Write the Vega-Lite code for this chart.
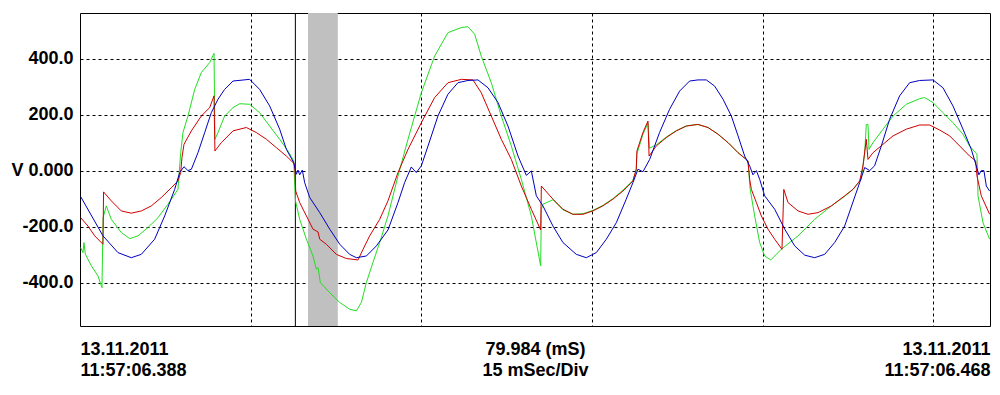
{
  "$schema": "https://vega.github.io/schema/vega-lite/v6.json",
  "autosize": {"type": "none"},
  "width": 910,
  "height": 313,
  "padding": {"left": 80, "top": 13, "right": 10, "bottom": 69},
  "background": "white",
  "config": {
    "view": {"stroke": "black", "strokeWidth": 1},
    "axis": {"labelFont": "Liberation Sans", "labelFontWeight": "bold", "labelFontSize": 18, "labelColor": "black"}
  },
  "datasets": {
    "band": [{"t1": 20.04, "t2": 22.66}],
    "cursor": [{"t": 18.93}],
    "series": [
      {"s":"green","t":0.06,"v":-275},{"s":"green","t":0.26,"v":-293},{"s":"green","t":0.35,"v":-257},{"s":"green","t":0.47,"v":-299},{"s":"green","t":1.00,"v":-340},{"s":"green","t":1.58,"v":-376},{"s":"green","t":1.93,"v":-418},{"s":"green","t":2.03,"v":-168},{"s":"green","t":2.31,"v":-126},{"s":"green","t":2.75,"v":-174},{"s":"green","t":3.63,"v":-221},{"s":"green","t":4.37,"v":-243},{"s":"green","t":5.10,"v":-233},{"s":"green","t":5.98,"v":-203},{"s":"green","t":6.86,"v":-168},{"s":"green","t":7.73,"v":-120},{"s":"green","t":8.61,"v":-67},{"s":"green","t":8.85,"v":64},{"s":"green","t":9.05,"v":136},{"s":"green","t":9.49,"v":195},{"s":"green","t":10.08,"v":290},{"s":"green","t":10.66,"v":350},{"s":"green","t":11.40,"v":386},{"s":"green","t":11.78,"v":419},{"s":"green","t":11.86,"v":112},{"s":"green","t":12.13,"v":136},{"s":"green","t":12.71,"v":195},{"s":"green","t":13.45,"v":225},{"s":"green","t":14.03,"v":239},{"s":"green","t":14.91,"v":237},{"s":"green","t":15.79,"v":207},{"s":"green","t":16.67,"v":159},{"s":"green","t":17.55,"v":112},{"s":"green","t":18.28,"v":70},{"s":"green","t":18.78,"v":35},{"s":"green","t":18.94,"v":-108},{"s":"green","t":19.31,"v":-174},{"s":"green","t":19.90,"v":-245},{"s":"green","t":20.48,"v":-305},{"s":"green","t":20.77,"v":-352},{"s":"green","t":20.92,"v":-346},{"s":"green","t":21.13,"v":-400},{"s":"green","t":21.95,"v":-436},{"s":"green","t":22.83,"v":-471},{"s":"green","t":23.70,"v":-495},{"s":"green","t":24.29,"v":-501},{"s":"green","t":24.73,"v":-471},{"s":"green","t":25.17,"v":-400},{"s":"green","t":25.75,"v":-328},{"s":"green","t":26.34,"v":-257},{"s":"green","t":27.07,"v":-162},{"s":"green","t":27.95,"v":-19},{"s":"green","t":28.83,"v":112},{"s":"green","t":30.00,"v":278},{"s":"green","t":31.17,"v":409},{"s":"green","t":32.34,"v":493},{"s":"green","t":33.52,"v":511},{"s":"green","t":34.10,"v":514},{"s":"green","t":34.69,"v":487},{"s":"green","t":35.27,"v":409},{"s":"green","t":36.15,"v":314},{"s":"green","t":37.03,"v":195},{"s":"green","t":37.91,"v":88},{"s":"green","t":38.79,"v":-31},{"s":"green","t":39.67,"v":-162},{"s":"green","t":40.49,"v":-340},{"s":"green","t":40.55,"v":-138},{"s":"green","t":40.69,"v":-120},{"s":"green","t":41.57,"v":-104},{"s":"green","t":42.45,"v":-140},{"s":"green","t":43.33,"v":-156},{"s":"green","t":44.21,"v":-154},{"s":"green","t":45.08,"v":-142},{"s":"green","t":45.96,"v":-124},{"s":"green","t":46.84,"v":-100},{"s":"green","t":47.72,"v":-70},{"s":"green","t":48.60,"v":-35},{"s":"green","t":48.89,"v":3},{"s":"green","t":48.95,"v":60},{"s":"green","t":49.48,"v":130},{"s":"green","t":49.92,"v":170},{"s":"green","t":50.05,"v":80},{"s":"green","t":50.65,"v":92},{"s":"green","t":51.53,"v":120},{"s":"green","t":52.41,"v":143},{"s":"green","t":53.29,"v":160},{"s":"green","t":54.31,"v":165},{"s":"green","t":55.20,"v":154},{"s":"green","t":56.08,"v":130},{"s":"green","t":56.96,"v":100},{"s":"green","t":57.84,"v":64},{"s":"green","t":58.71,"v":35},{"s":"green","t":58.90,"v":-65},{"s":"green","t":59.30,"v":-162},{"s":"green","t":59.74,"v":-257},{"s":"green","t":60.18,"v":-305},{"s":"green","t":60.71,"v":-319},{"s":"green","t":61.64,"v":-281},{"s":"green","t":63.11,"v":-233},{"s":"green","t":64.57,"v":-174},{"s":"green","t":66.04,"v":-126},{"s":"green","t":67.21,"v":-92},{"s":"green","t":67.94,"v":-67},{"s":"green","t":68.67,"v":-31},{"s":"green","t":68.97,"v":64},{"s":"green","t":69.11,"v":165},{"s":"green","t":69.26,"v":165},{"s":"green","t":69.35,"v":76},{"s":"green","t":69.70,"v":100},{"s":"green","t":70.58,"v":148},{"s":"green","t":71.46,"v":195},{"s":"green","t":72.63,"v":237},{"s":"green","t":73.80,"v":257},{"s":"green","t":74.24,"v":261},{"s":"green","t":74.97,"v":243},{"s":"green","t":75.85,"v":207},{"s":"green","t":76.73,"v":171},{"s":"green","t":77.61,"v":130},{"s":"green","t":78.19,"v":88},{"s":"green","t":78.72,"v":64},{"s":"green","t":78.84,"v":58},{"s":"green","t":78.93,"v":-90},{"s":"green","t":79.37,"v":-186},{"s":"green","t":79.95,"v":-245},
      {"s":"red","t":0.06,"v":-168},{"s":"red","t":0.70,"v":-198},{"s":"red","t":1.29,"v":-233},{"s":"red","t":2.02,"v":-263},{"s":"red","t":2.07,"v":-76},{"s":"red","t":2.75,"v":-108},{"s":"red","t":3.63,"v":-144},{"s":"red","t":4.51,"v":-152},{"s":"red","t":5.39,"v":-144},{"s":"red","t":6.27,"v":-126},{"s":"red","t":7.15,"v":-96},{"s":"red","t":8.03,"v":-61},{"s":"red","t":8.61,"v":-37},{"s":"red","t":8.85,"v":-7},{"s":"red","t":8.96,"v":46},{"s":"red","t":9.14,"v":94},{"s":"red","t":9.79,"v":142},{"s":"red","t":10.66,"v":195},{"s":"red","t":11.40,"v":225},{"s":"red","t":11.78,"v":267},{"s":"red","t":11.86,"v":70},{"s":"red","t":12.42,"v":100},{"s":"red","t":13.45,"v":142},{"s":"red","t":14.62,"v":154},{"s":"red","t":15.50,"v":136},{"s":"red","t":16.38,"v":112},{"s":"red","t":17.26,"v":82},{"s":"red","t":18.14,"v":52},{"s":"red","t":18.87,"v":23},{"s":"red","t":18.96,"v":-73},{"s":"red","t":19.31,"v":-114},{"s":"red","t":19.90,"v":-162},{"s":"red","t":20.48,"v":-209},{"s":"red","t":20.92,"v":-219},{"s":"red","t":21.07,"v":-245},{"s":"red","t":21.65,"v":-263},{"s":"red","t":22.53,"v":-299},{"s":"red","t":23.41,"v":-314},{"s":"red","t":24.44,"v":-319},{"s":"red","t":24.88,"v":-281},{"s":"red","t":25.46,"v":-233},{"s":"red","t":26.34,"v":-174},{"s":"red","t":27.07,"v":-108},{"s":"red","t":27.95,"v":-7},{"s":"red","t":28.83,"v":76},{"s":"red","t":30.00,"v":171},{"s":"red","t":31.17,"v":261},{"s":"red","t":32.34,"v":314},{"s":"red","t":33.52,"v":326},{"s":"red","t":34.54,"v":324},{"s":"red","t":35.27,"v":278},{"s":"red","t":36.15,"v":195},{"s":"red","t":37.03,"v":112},{"s":"red","t":37.91,"v":40},{"s":"red","t":38.79,"v":-55},{"s":"red","t":39.67,"v":-138},{"s":"red","t":40.49,"v":-212},{"s":"red","t":40.55,"v":-55},{"s":"red","t":41.57,"v":-102},{"s":"red","t":42.45,"v":-138},{"s":"red","t":43.33,"v":-156},{"s":"red","t":44.21,"v":-156},{"s":"red","t":45.08,"v":-144},{"s":"red","t":45.96,"v":-126},{"s":"red","t":46.84,"v":-102},{"s":"red","t":47.72,"v":-73},{"s":"red","t":48.60,"v":-37},{"s":"red","t":48.89,"v":5},{"s":"red","t":48.95,"v":70},{"s":"red","t":49.48,"v":136},{"s":"red","t":49.92,"v":177},{"s":"red","t":50.02,"v":52},{"s":"red","t":50.65,"v":88},{"s":"red","t":51.53,"v":118},{"s":"red","t":52.41,"v":142},{"s":"red","t":53.29,"v":159},{"s":"red","t":54.31,"v":165},{"s":"red","t":55.20,"v":154},{"s":"red","t":56.08,"v":130},{"s":"red","t":56.96,"v":100},{"s":"red","t":57.84,"v":64},{"s":"red","t":58.71,"v":35},{"s":"red","t":58.86,"v":-31},{"s":"red","t":59.01,"v":-67},{"s":"red","t":59.45,"v":-114},{"s":"red","t":59.89,"v":-162},{"s":"red","t":60.47,"v":-209},{"s":"red","t":61.06,"v":-245},{"s":"red","t":61.70,"v":-281},{"s":"red","t":61.86,"v":-67},{"s":"red","t":62.23,"v":-114},{"s":"red","t":63.11,"v":-144},{"s":"red","t":63.99,"v":-156},{"s":"red","t":64.87,"v":-150},{"s":"red","t":66.04,"v":-126},{"s":"red","t":67.21,"v":-90},{"s":"red","t":67.94,"v":-67},{"s":"red","t":68.53,"v":-37},{"s":"red","t":68.82,"v":17},{"s":"red","t":69.11,"v":112},{"s":"red","t":69.26,"v":40},{"s":"red","t":69.70,"v":64},{"s":"red","t":70.58,"v":94},{"s":"red","t":71.46,"v":124},{"s":"red","t":72.63,"v":148},{"s":"red","t":73.80,"v":163},{"s":"red","t":74.68,"v":163},{"s":"red","t":75.56,"v":145},{"s":"red","t":76.44,"v":124},{"s":"red","t":77.32,"v":88},{"s":"red","t":78.19,"v":52},{"s":"red","t":78.72,"v":35},{"s":"red","t":78.84,"v":-19},{"s":"red","t":79.22,"v":-90},{"s":"red","t":79.95,"v":-156},
      {"s":"blue","t":0.06,"v":-93},{"s":"blue","t":2.02,"v":-233},{"s":"blue","t":3.34,"v":-293},{"s":"blue","t":4.51,"v":-311},{"s":"blue","t":5.39,"v":-299},{"s":"blue","t":6.56,"v":-245},{"s":"blue","t":7.44,"v":-162},{"s":"blue","t":8.32,"v":-67},{"s":"blue","t":8.76,"v":-7},{"s":"blue","t":9.14,"v":14},{"s":"blue","t":9.49,"v":0},{"s":"blue","t":9.79,"v":5},{"s":"blue","t":10.37,"v":64},{"s":"blue","t":10.96,"v":136},{"s":"blue","t":11.54,"v":207},{"s":"blue","t":12.13,"v":255},{"s":"blue","t":12.71,"v":290},{"s":"blue","t":13.45,"v":320},{"s":"blue","t":14.91,"v":326},{"s":"blue","t":15.79,"v":290},{"s":"blue","t":16.67,"v":231},{"s":"blue","t":17.55,"v":148},{"s":"blue","t":18.14,"v":76},{"s":"blue","t":18.78,"v":29},{"s":"blue","t":19.02,"v":-13},{"s":"blue","t":19.16,"v":2},{"s":"blue","t":19.31,"v":-15},{"s":"blue","t":19.54,"v":2},{"s":"blue","t":19.75,"v":-43},{"s":"blue","t":20.19,"v":-96},{"s":"blue","t":21.07,"v":-150},{"s":"blue","t":21.95,"v":-209},{"s":"blue","t":22.83,"v":-263},{"s":"blue","t":23.70,"v":-299},{"s":"blue","t":24.29,"v":-311},{"s":"blue","t":25.17,"v":-305},{"s":"blue","t":26.05,"v":-269},{"s":"blue","t":27.07,"v":-212},{"s":"blue","t":27.95,"v":-114},{"s":"blue","t":28.53,"v":-43},{"s":"blue","t":29.12,"v":13},{"s":"blue","t":29.56,"v":-7},{"s":"blue","t":30.00,"v":17},{"s":"blue","t":30.59,"v":88},{"s":"blue","t":31.46,"v":195},{"s":"blue","t":32.34,"v":273},{"s":"blue","t":33.22,"v":314},{"s":"blue","t":34.10,"v":322},{"s":"blue","t":34.98,"v":324},{"s":"blue","t":35.86,"v":296},{"s":"blue","t":36.74,"v":243},{"s":"blue","t":37.62,"v":159},{"s":"blue","t":38.50,"v":52},{"s":"blue","t":39.23,"v":-17},{"s":"blue","t":39.67,"v":-1},{"s":"blue","t":40.11,"v":-90},{"s":"blue","t":40.69,"v":-126},{"s":"blue","t":41.57,"v":-198},{"s":"blue","t":42.45,"v":-257},{"s":"blue","t":43.62,"v":-299},{"s":"blue","t":44.50,"v":-311},{"s":"blue","t":45.38,"v":-293},{"s":"blue","t":46.26,"v":-245},{"s":"blue","t":47.14,"v":-186},{"s":"blue","t":48.01,"v":-102},{"s":"blue","t":48.60,"v":-43},{"s":"blue","t":49.04,"v":5},{"s":"blue","t":49.48,"v":-4},{"s":"blue","t":50.07,"v":40},{"s":"blue","t":50.94,"v":136},{"s":"blue","t":51.82,"v":219},{"s":"blue","t":52.70,"v":284},{"s":"blue","t":53.58,"v":320},{"s":"blue","t":54.32,"v":324},{"s":"blue","t":55.05,"v":324},{"s":"blue","t":55.78,"v":302},{"s":"blue","t":56.52,"v":255},{"s":"blue","t":57.25,"v":195},{"s":"blue","t":57.84,"v":124},{"s":"blue","t":58.42,"v":52},{"s":"blue","t":58.86,"v":17},{"s":"blue","t":59.15,"v":-15},{"s":"blue","t":59.45,"v":0},{"s":"blue","t":59.74,"v":-31},{"s":"blue","t":60.18,"v":-90},{"s":"blue","t":61.06,"v":-138},{"s":"blue","t":61.94,"v":-209},{"s":"blue","t":62.82,"v":-269},{"s":"blue","t":63.70,"v":-302},{"s":"blue","t":64.57,"v":-311},{"s":"blue","t":65.45,"v":-299},{"s":"blue","t":66.33,"v":-257},{"s":"blue","t":67.21,"v":-198},{"s":"blue","t":67.94,"v":-112},{"s":"blue","t":68.53,"v":-43},{"s":"blue","t":68.97,"v":11},{"s":"blue","t":69.41,"v":0},{"s":"blue","t":69.84,"v":17},{"s":"blue","t":70.43,"v":88},{"s":"blue","t":71.16,"v":183},{"s":"blue","t":72.04,"v":267},{"s":"blue","t":72.92,"v":314},{"s":"blue","t":73.80,"v":322},{"s":"blue","t":74.97,"v":324},{"s":"blue","t":75.85,"v":296},{"s":"blue","t":76.73,"v":231},{"s":"blue","t":77.61,"v":148},{"s":"blue","t":78.34,"v":76},{"s":"blue","t":78.78,"v":17},{"s":"blue","t":79.01,"v":-15},{"s":"blue","t":79.22,"v":0},{"s":"blue","t":79.45,"v":0},{"s":"blue","t":79.66,"v":-55},{"s":"blue","t":79.95,"v":-73}
    ]
  },
  "resolve": {"axis": {"x": "independent", "y": "shared"}},
  "layer": [
    {
      "data": {"name": "band"},
      "mark": {"type": "rect", "color": "#C0C0C0"},
      "encoding": {
        "x": {"field": "t1", "type": "quantitative", "scale": {"domain": [0, 79.984], "nice": false, "zero": false},
          "axis": {"orient": "top", "values": [15, 30, 45, 60, 75], "grid": true, "gridColor": "black", "gridDash": [3, 3], "gridWidth": 1, "gridOpacity": 1, "labels": false, "ticks": false, "domain": false, "title": null}},
        "x2": {"field": "t2"}
      }
    },
    {
      "data": {"name": "cursor"},
      "mark": {"type": "rule", "color": "black", "strokeWidth": 1},
      "encoding": {"x": {"field": "t", "type": "quantitative", "axis": null}}
    },
    {
      "data": {"name": "series"},
      "transform": [{"filter": "datum.s == 'green'"}],
      "mark": {"type": "line", "color": "#22DD22", "strokeWidth": 1},
      "encoding": {
        "x": {"field": "t", "type": "quantitative",
          "axis": {"orient": "bottom", "values": [0, 40, 79.984], "grid": false, "ticks": false, "domain": false, "title": null, "labelFlush": true, "labelOverlap": false, "labelBound": false, "labelBaseline": "top", "labelPadding": 14, "labelLineHeight": 21,
            "labelExpr": "datum.value == 0 ? ['13.11.2011', '11:57:06.388'] : (datum.value > 79 ? ['13.11.2011', '11:57:06.468'] : ['79.984 (mS)', '15 mSec/Div'])"}},
        "y": {"field": "v", "type": "quantitative", "scale": {"domain": [-555, 563], "nice": false, "zero": false},
          "axis": {"orient": "left", "values": [-400, -200, 0, 200, 400], "grid": true, "gridColor": "black", "gridDash": [3, 3], "gridWidth": 1, "gridOpacity": 1, "ticks": false, "domain": false, "title": null, "labelPadding": 7, "labelOverlap": false,
            "labelExpr": "datum.value == 0 ? 'V 0.000' : (datum.value < 0 ? '-' : '') + format(abs(datum.value), '.1f')"}}
      }
    },
    {
      "data": {"name": "series"},
      "transform": [{"filter": "datum.s == 'red'"}],
      "mark": {"type": "line", "color": "#D00000", "strokeWidth": 1},
      "encoding": {
        "x": {"field": "t", "type": "quantitative", "axis": null},
        "y": {"field": "v", "type": "quantitative",
          "axis": {"orient": "left", "values": [-400, -200, 0, 200, 400], "grid": true, "gridColor": "black", "gridDash": [3, 3], "gridWidth": 1, "gridOpacity": 1, "ticks": false, "domain": false, "title": null, "labelPadding": 7, "labelOverlap": false,
            "labelExpr": "datum.value == 0 ? 'V 0.000' : (datum.value < 0 ? '-' : '') + format(abs(datum.value), '.1f')"}}
      }
    },
    {
      "data": {"name": "series"},
      "transform": [{"filter": "datum.s == 'blue'"}],
      "mark": {"type": "line", "color": "#0000C0", "strokeWidth": 1},
      "encoding": {
        "x": {"field": "t", "type": "quantitative", "axis": null},
        "y": {"field": "v", "type": "quantitative",
          "axis": {"orient": "left", "values": [-400, -200, 0, 200, 400], "grid": true, "gridColor": "black", "gridDash": [3, 3], "gridWidth": 1, "gridOpacity": 1, "ticks": false, "domain": false, "title": null, "labelPadding": 7, "labelOverlap": false,
            "labelExpr": "datum.value == 0 ? 'V 0.000' : (datum.value < 0 ? '-' : '') + format(abs(datum.value), '.1f')"}}
      }
    }
  ]
}
